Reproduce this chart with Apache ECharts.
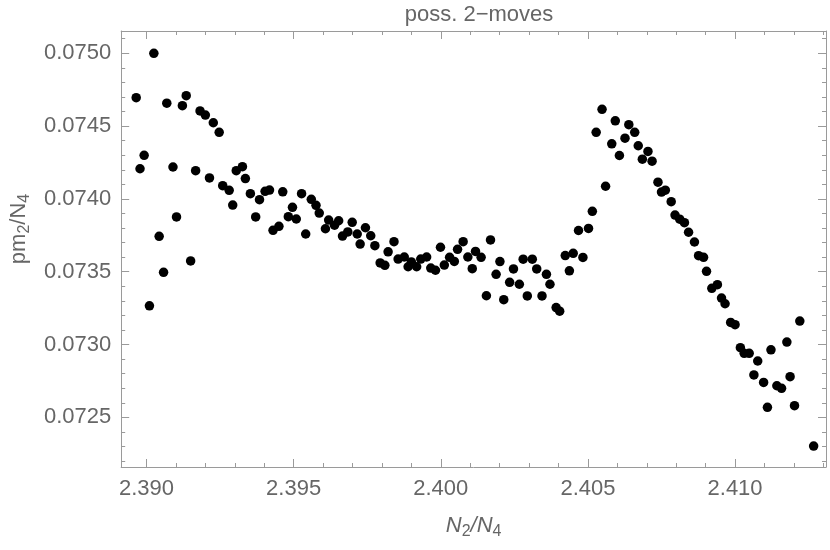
<!DOCTYPE html>
<html>
<head>
<meta charset="utf-8">
<script src="https://cdn.jsdelivr.net/npm/echarts@6/dist/echarts.min.js"></script>
<style>
    html, body { margin: 0; padding: 0; background: #fff; }
    #chart { width: 830px; height: 550px; }
</style>
</head>
<body>
<div id="chart"></div>
<script>
// N2/N4 values
var xValues = [
    2.38965, 2.38978, 2.38992, 2.39010, 2.39025, 2.39043, 2.39058, 2.39069, 2.39090, 2.39102,
    2.39122, 2.39135, 2.39150, 2.39167, 2.39182, 2.39200, 2.39214, 2.39227, 2.39247, 2.39259,
    2.39281, 2.39293, 2.39305, 2.39326, 2.39336, 2.39353, 2.39371, 2.39384, 2.39403, 2.39418,
    2.39430, 2.39450, 2.39463, 2.39482, 2.39496, 2.39509, 2.39527, 2.39541, 2.39560, 2.39576,
    2.39587, 2.39608, 2.39619, 2.39639, 2.39653, 2.39666, 2.39684, 2.39699, 2.39716, 2.39726,
    2.39744, 2.39762, 2.39776, 2.39794, 2.39810, 2.39821, 2.39841, 2.39855, 2.39876, 2.39889,
    2.39900, 2.39918, 2.39932, 2.39952, 2.39966, 2.39982, 2.39999, 2.40012, 2.40030, 2.40046,
    2.40057, 2.40076, 2.40092, 2.40107, 2.40118, 2.40137, 2.40155, 2.40169, 2.40188, 2.40201,
    2.40214, 2.40234, 2.40247, 2.40267, 2.40280, 2.40294, 2.40311, 2.40326, 2.40344, 2.40359,
    2.40371, 2.40392, 2.40404, 2.40423, 2.40437, 2.40450, 2.40468, 2.40483, 2.40502, 2.40515,
    2.40528, 2.40548, 2.40560, 2.40581, 2.40593, 2.40607, 2.40626, 2.40639, 2.40659, 2.40671,
    2.40685, 2.40704, 2.40718, 2.40738, 2.40750, 2.40763, 2.40783, 2.40796, 2.40812, 2.40828,
    2.40842, 2.40862, 2.40876, 2.40893, 2.40903, 2.40921, 2.40940, 2.40954, 2.40966, 2.40985,
    2.41000, 2.41018, 2.41031, 2.41048, 2.41064, 2.41077, 2.41097, 2.41110, 2.41122, 2.41142,
    2.41158, 2.41176, 2.41187, 2.41202, 2.41220, 2.41267
];
// pm2/N4 values
var yValues = [
    0.074695, 0.074207, 0.074299, 0.073266, 0.075000, 0.073743, 0.073496, 0.074657, 0.074219, 0.073876,
    0.074640, 0.074709, 0.073574, 0.074194, 0.074604, 0.074576, 0.074144, 0.074523, 0.074457, 0.074091,
    0.074059, 0.073958, 0.074194, 0.074221, 0.074140, 0.074036, 0.073876, 0.073995, 0.074052, 0.074061,
    0.073784, 0.073812, 0.074049, 0.073878, 0.073942, 0.073862, 0.074036, 0.073759, 0.073997, 0.073956,
    0.073903, 0.073795, 0.073855, 0.073819, 0.073850, 0.073745, 0.073773, 0.073839, 0.073759, 0.073690,
    0.073802, 0.073747, 0.073679, 0.073560, 0.073544, 0.073637, 0.073706, 0.073587, 0.073601, 0.073534,
    0.073567, 0.073534, 0.073587, 0.073601, 0.073525, 0.073510, 0.073668, 0.073546, 0.073599, 0.073571,
    0.073654, 0.073706, 0.073601, 0.073521, 0.073639, 0.073599, 0.073335, 0.073718, 0.073482, 0.073570,
    0.073308, 0.073427, 0.073519, 0.073414, 0.073586, 0.073334, 0.073586, 0.073519, 0.073334, 0.073482,
    0.073414, 0.073254, 0.073229, 0.073611, 0.073506, 0.073626, 0.073783, 0.073598, 0.073797, 0.073915,
    0.074457, 0.074615, 0.074087, 0.074378, 0.074536, 0.074298, 0.074417, 0.074510, 0.074457, 0.074365,
    0.074273, 0.074326, 0.074259, 0.074115, 0.074047, 0.074060, 0.073981, 0.073889, 0.073861, 0.073837,
    0.073771, 0.073704, 0.073610, 0.073599, 0.073503, 0.073386, 0.073411, 0.073319, 0.073280, 0.073152,
    0.073136, 0.072978, 0.072940, 0.072940, 0.072791, 0.072887, 0.072740, 0.072569, 0.072964, 0.072717,
    0.072699, 0.073017, 0.072779, 0.072580, 0.073161, 0.072303
];
var xMajorTicks = [2.390, 2.395, 2.400, 2.405, 2.410];
var yMajorTicks = [0.0725, 0.0730, 0.0735, 0.0740, 0.0745, 0.0750];

var X_MIN = 2.38914, X_MAX = 2.41309;
var Y_MIN = 0.072159, Y_MAX = 0.075153;

// minor ticks every 0.001 / 0.0001, majors left out
var xMinorTicks = [];
for (var i = 2390; i <= 2413; i++) {
    if (i % 5 !== 0) xMinorTicks.push(i / 1000);
}
var yMinorTicks = [];
for (var j = 722; j <= 751; j++) {
    if (j % 5 !== 0) yMinorTicks.push(j / 10000);
}

var FRAME = '#9a9a9a';
var TEXT = '#666666';
var FONT = 'Liberation Sans';

function frameAxis(position, min, max, ticks, len, showLine, label) {
    return {
        type: 'value',
        position: position,
        min: min,
        max: max,
        scale: true,
        splitLine: {show: false},
        axisLine: {show: showLine, lineStyle: {color: FRAME, width: 1}},
        axisTick: {show: true, inside: true, length: len, customValues: ticks,
            lineStyle: {color: FRAME, width: 1}},
        axisLabel: label || {show: false}
    };
}

var chart = echarts.init(document.getElementById('chart'));
var option = {
    animation: false,
    backgroundColor: '#fff',
    title: {
        text: 'poss. 2\u2212moves',
        left: 474,
        textAlign: 'center',
        top: -1,
        textStyle: {color: TEXT, fontFamily: FONT, fontSize: 22, fontWeight: 'normal'}
    },
    grid: {left: 121, right: 4, top: 31, bottom: 83},
    xAxis: [
        Object.assign(frameAxis('bottom', X_MIN, X_MAX, xMajorTicks, 8, true, {
            show: true,
            customValues: xMajorTicks,
            margin: 11,
            color: TEXT,
            fontFamily: FONT,
            fontSize: 22,
            formatter: function (v) { return v.toFixed(3); }
        }), {
            name: '{i|N}{s|2}{i|/N}{s|4}',
            nameLocation: 'middle',
            nameGap: 45,
            nameTextStyle: {
                rich: {
                    i: {fontFamily: FONT, fontSize: 22, fontStyle: 'italic', color: TEXT},
                    s: {fontFamily: FONT, fontSize: 16, color: TEXT, padding: [12, 0, 0, 0]}
                }
            }
        }),
        frameAxis('bottom', X_MIN, X_MAX, xMinorTicks, 4, false),
        frameAxis('top', X_MIN, X_MAX, xMajorTicks, 8, true),
        frameAxis('top', X_MIN, X_MAX, xMinorTicks, 4, false)
    ],
    yAxis: [
        Object.assign(frameAxis('left', Y_MIN, Y_MAX, yMajorTicks, 8, true, {
            show: true,
            customValues: yMajorTicks,
            margin: 10,
            color: TEXT,
            fontFamily: FONT,
            fontSize: 22,
            formatter: function (v) { return v.toFixed(4); }
        }), {
            name: '{a|pm}{s|2}{a|/N}{s|4}',
            nameLocation: 'middle',
            nameRotate: 90,
            nameGap: 88,
            nameTextStyle: {
                padding: [0, 0, 0, 40],
                rich: {
                    a: {fontFamily: FONT, fontSize: 22, color: TEXT},
                    s: {fontFamily: FONT, fontSize: 16, color: TEXT, padding: [12, 0, 0, 0]}
                }
            }
        }),
        frameAxis('left', Y_MIN, Y_MAX, yMinorTicks, 4, false),
        frameAxis('right', Y_MIN, Y_MAX, yMajorTicks, 8, true),
        frameAxis('right', Y_MIN, Y_MAX, yMinorTicks, 4, false)
    ],
    series: [
        {
            type: 'scatter',
            xAxisIndex: 0,
            yAxisIndex: 0,
            symbol: 'circle',
            symbolSize: 9.5,
            itemStyle: {color: '#000', opacity: 1},
            data: xValues.map(function (x, k) { return [x, yValues[k]]; })
        }
    ]
};
chart.setOption(option);
</script>
</body>
</html>
